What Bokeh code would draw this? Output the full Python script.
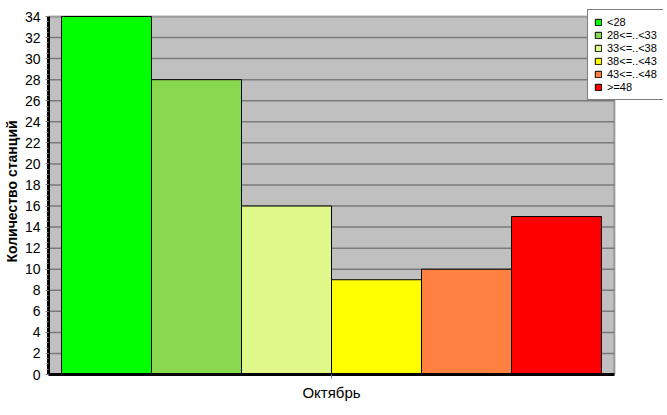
from bokeh.plotting import figure
from bokeh.models import FixedTicker, Legend, LegendItem, Range1d, ColumnDataSource, BoxAnnotation
from bokeh.embed import file_html
from bokeh.resources import INLINE

categories = ["<28", "28<=..<33", "33<=..<38", "38<=..<43", "43<=..<48", ">=48"]
counts = [34, 28, 16, 9, 10, 15]
colors = ["#00FF00", "#88D850", "#E0F88A", "#FFFF00", "#FF8040", "#FF0000"]
month = "Октябрь"
y_ticks = list(range(0, 35, 2))

positions = list(range(len(categories)))
bar_px = 90.0
pad = 13 / bar_px
xl = -0.5 - pad
xr = len(categories) - 0.5 + pad
frame_w = 615
x_end = xl + frame_w / bar_px
y_top = 34
area_h = 358
frame_h = 366
y_end = y_top * frame_h / area_h

p = figure(frame_width=frame_w, frame_height=frame_h, output_backend="svg", toolbar_location=None,
           x_range=Range1d(xl, x_end), y_range=Range1d(0, y_end),
           min_border_left=48, min_border_top=8, min_border_right=4, min_border_bottom=36)
p.background_fill_color = "white"
p.border_fill_color = "white"
p.outline_line_color = None
p.xgrid.visible = False
p.ygrid.visible = False

# plot area (gray box with black border)
area = BoxAnnotation(left=xl, right=xr, bottom=0, top=y_top, fill_color="#C0C0C0", fill_alpha=1,
                     line_color="black", line_width=2, level="underlay")
p.add_layout(area)

grid_y = [t for t in y_ticks if 0 < t < y_top]
p.segment(x0=[xl] * len(grid_y), x1=[xr] * len(grid_y), y0=grid_y, y1=grid_y,
          line_color="#7A7A7A", line_width=1.5)

items = []
for i, (c, v, col) in enumerate(zip(categories, counts, colors)):
    src = ColumnDataSource(dict(x=[positions[i]], top=[v]))
    r = p.vbar(x="x", top="top", width=1, source=src, fill_color=col, line_color="black", line_width=1)
    items.append(LegendItem(label=c, renderers=[r]))

ya = p.yaxis[0]
ya.ticker = FixedTicker(ticks=y_ticks, minor_ticks=[t / 2 for t in range(0, 69)])
ya.bounds = (0, y_top)
ya.axis_line_color = "black"
ya.axis_line_width = 3
ya.major_tick_line_color = "#808080"
ya.major_tick_out = 3
ya.major_tick_in = 0
ya.minor_tick_line_color = "#808080"
ya.minor_tick_out = 2
ya.minor_tick_in = 0
ya.major_label_text_font = "Liberation Sans"
ya.major_label_text_font_size = "14px"
ya.major_label_text_color = "black"
ya.major_label_standoff = 5
ya.axis_label = "Количество станций"
ya.axis_label_text_font = "Liberation Sans"
ya.axis_label_text_font_style = "bold"
ya.axis_label_text_font_size = "14px"
ya.axis_label_text_color = "black"
ya.axis_label_standoff = 2

xa = p.xaxis[0]
center = (len(categories) - 1) / 2
xa.ticker = FixedTicker(ticks=[center])
xa.bounds = (xl, xr)
xa.major_label_overrides = {center: month}
xa.axis_line_color = "black"
xa.axis_line_width = 3
xa.major_tick_line_color = "#808080"
xa.major_tick_out = 4
xa.major_tick_in = 0
xa.minor_tick_line_color = None
xa.major_label_text_font = "Liberation Sans"
xa.major_label_text_font_size = "15px"
xa.major_label_text_color = "black"
xa.major_label_standoff = 5

legend = Legend(items=items, location=(539, 274))
legend.border_line_color = "black"
legend.border_line_width = 1
legend.background_fill_color = "white"
legend.background_fill_alpha = 1
legend.label_text_font = "Liberation Sans"
legend.label_text_font_size = "11px"
legend.label_text_color = "black"
legend.label_height = 12
legend.glyph_height = 8
legend.glyph_width = 8
legend.label_standoff = 5
legend.spacing = 1
legend.padding = 6
legend.margin = 0
p.add_layout(legend)

open("out.html", "w").write(file_html(p, INLINE))
